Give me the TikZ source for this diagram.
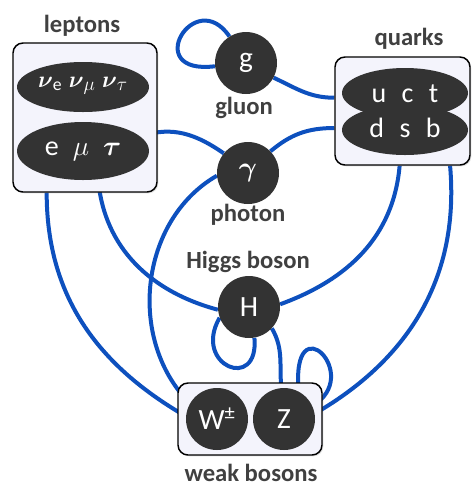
\documentclass[tikz,border=0pt]{standalone}
\usepackage{amsmath,amssymb}
\usepackage{fontspec}
\setmainfont{Carlito}
\usepackage{tikz}
\usetikzlibrary{shapes.geometric,backgrounds,shadows}
\definecolor{linkblue}{HTML}{0D50BE}
\definecolor{particle}{HTML}{333333}
\definecolor{boxfill}{HTML}{F4F4FC}
\definecolor{labelgray}{HTML}{404040}
\begin{document}
\begin{tikzpicture}[x=0.75pt,y=0.75pt,
 link/.style={linkblue,line width=3pt},
 family/.style={draw=black,line width=1.1pt,fill=boxfill,rounded corners=7.5pt,
  drop shadow={opacity=0.25,shadow xshift=1pt,shadow yshift=-1pt}},
 ball/.style={circle,fill=particle,text=white,minimum size=46.5pt,inner sep=0pt,
  font=\fontsize{22}{24}\selectfont},
 blob/.style={ellipse,fill=particle,text=white,inner sep=0pt},
 tag/.style={text=labelgray,font=\bfseries\fontsize{18.5}{20}\selectfont}]
 \useasboundingbox (0,0) rectangle (472,-487);
 % families
 \node[family,minimum width=108pt,minimum height=111.75pt] (lepbox) at (85,-117.5) {};
 \node[family,minimum width=101.25pt,minimum height=81pt] (qbox) at (402.5,-111) {};
 \node[family,minimum width=108pt,minimum height=54pt] (wbox) at (250,-419) {};
 \node[tag] (leplab) at (82,-26) {leptons};
 \node[tag] (qlab) at (409,-39) {quarks};
 \node[tag] (wlab) at (251,-473) {weak bosons};
 % leptons and quarks
 \node[blob,minimum width=99pt,minimum height=37.5pt] (nu) at (83,-87) {};
 \node[text=white,font=\fontsize{19}{22}\selectfont] (nutext) at (83,-86)
  {$\boldsymbol{\nu}_{\mathrm{e}}\;\boldsymbol{\nu}_{\mu}\;\boldsymbol{\nu}_{\tau}$};
 \node[blob,minimum width=99pt,minimum height=43.5pt,font=\fontsize{21}{24}\selectfont] (chl) at (83,-151)
  {e\hspace{0.5em}$\mu$\hspace{0.5em}$\boldsymbol{\tau}$};
 \node[blob,minimum width=94.5pt,minimum height=37.5pt] (qup) at (405,-93) {};
 \node[blob,minimum width=94.5pt,minimum height=37.5pt] (qdown) at (405,-130) {};
 \node[text=white,font=\fontsize{21}{24}\selectfont] (qtop) at (405,-94) {u\hspace{0.55em}c\hspace{0.55em}t};
 \node[text=white,font=\fontsize{21}{24}\selectfont] (qbot) at (405,-128) {d\hspace{0.55em}s\hspace{0.55em}b};
 % bosons
 \node[ball] (g) at (246,-63) {g};
 \node[tag] (glab) at (244,-108) {gluon};
 \node[ball] (ph) at (248,-173) {$\boldsymbol{\gamma}$};
 \node[tag] (phlab) at (248,-215) {photon};
 \node[ball] (H) at (249,-307) {H};
 \node[tag] (Hlab) at (248,-262) {Higgs boson};
 \node[ball] (W) at (217,-419) {W\textsuperscript{±}};
 \node[ball] (Z) at (284,-419) {Z};
 % interactions
 \begin{scope}[on background layer]
 \draw[link] (g.122) .. controls +(124:62) and +(187:75) .. (g.186);
 \draw[link] (g.-28) to[out=-25,in=180] (qbox.169);
 \draw[link] (ph.44) to[out=40,in=180] (qbox.194);
 \draw[link] (chl.14) to[out=20,in=145] (ph.141);
 \draw[link] (chl.-62) to[out=-85,in=165] (H.185);
 \draw[link] (lepbox.243) to[out=-90,in=150] (W.175);
 \draw[link] (ph.185) to[out=210,in=135] (W.150);
 \draw[link] (qbox.-93) to[out=-95,in=20] (H.5);
 \draw[link] (qbox.-49) to[out=-85,in=30] (Z.10);
 \draw[link] (H.200) .. controls +(240:55) and +(-85:55) .. (H.-80);
 \draw[link] (H.-43) to[out=-60,in=95] (Z.95);
 \draw[link] (Z.62) .. controls +(95:90) and +(30:60) .. (Z.25);
 \end{scope}
\end{tikzpicture}
\end{document}
